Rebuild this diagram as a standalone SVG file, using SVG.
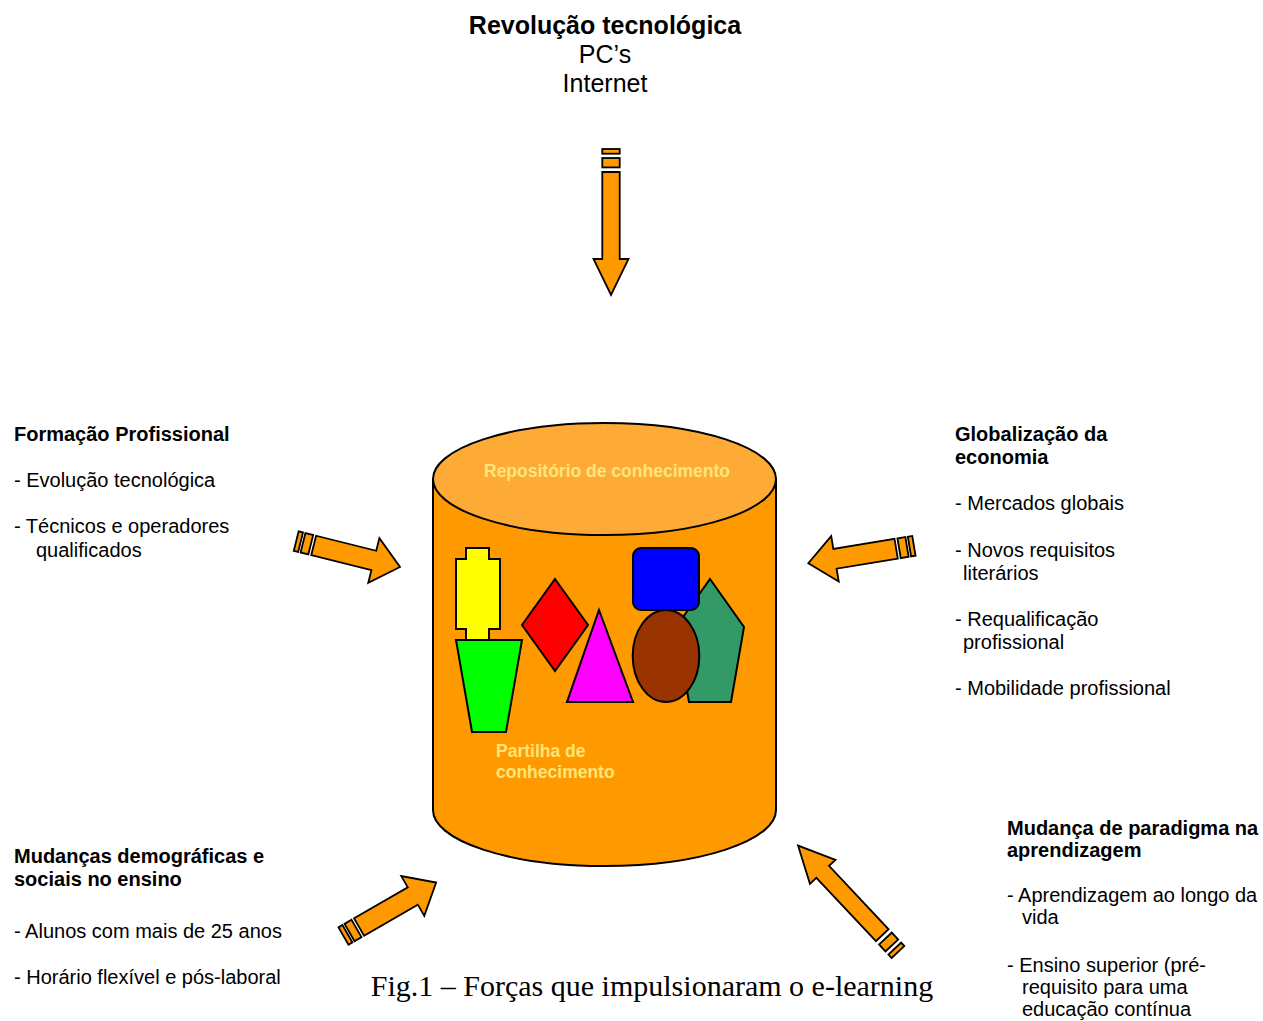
<svg xmlns="http://www.w3.org/2000/svg" width="1263" height="1021" viewBox="0 0 1263 1021">
<defs>
<style>
.t{font-family:"Liberation Sans",Arial,sans-serif;font-size:20px;fill:#000}
.b{font-weight:bold}
.h{font-size:25px}
.cyl{fill:#FF9900;stroke:#000;stroke-width:2}
.arr{fill:#FF9900;stroke:#000;stroke-width:1.8;stroke-linejoin:miter}
.sh{stroke:#000;stroke-width:2;stroke-linejoin:miter}
.in{font-family:"Liberation Sans",Arial,sans-serif;font-size:17.5px;font-weight:bold;fill:#FFE57A}
</style>
<g id="arrowA">
<rect class="arr" x="0" y="-8.7" width="4.7" height="17.4"/>
<rect class="arr" x="9" y="-8.7" width="9.4" height="17.4"/>
<polygon class="arr" points="23,-8.7 110,-8.7 110,-17.5 146,0 110,17.5 110,8.7 23,8.7"/>
</g>
<g id="arrowB">
<rect class="arr" x="0" y="-10" width="4.5" height="20"/>
<rect class="arr" x="7" y="-10" width="8" height="20"/>
<polygon class="arr" points="18,-10 80,-10 80,-23 107,0 80,23 80,10 18,10"/>
</g>
</defs>
<rect width="1263" height="1021" fill="#fff"/>

<g id="node-revolucao">
<text class="t b h" x="605" y="34" text-anchor="middle">Revolução tecnológica</text>
<text class="t h" x="605" y="63" text-anchor="middle">PC’s</text>
<text class="t h" x="605" y="92" text-anchor="middle">Internet</text>
</g>

<g id="node-formacao">
<text class="t b" x="14" y="441">Formação Profissional</text>
<text class="t" x="14" y="487">- Evolução tecnológica</text>
<text class="t" x="14" y="533">- Técnicos e operadores</text>
<text class="t" x="36" y="557">qualificados</text>
</g>

<g id="node-globalizacao">
<text class="t b" x="955" y="441">Globalização da</text>
<text class="t b" x="955" y="464">economia</text>
<text class="t" x="955" y="510">- Mercados globais</text>
<text class="t" x="955" y="557">- Novos requisitos</text>
<text class="t" x="963" y="580">literários</text>
<text class="t" x="955" y="626">- Requalificação</text>
<text class="t" x="963" y="649">profissional</text>
<text class="t" x="955" y="695">- Mobilidade profissional</text>
</g>

<g id="node-mudancas">
<text class="t b" x="14" y="863">Mudanças demográficas e</text>
<text class="t b" x="14" y="886">sociais no ensino</text>
<text class="t" x="14" y="938">- Alunos com mais de 25 anos</text>
<text class="t" x="14" y="984">- Horário flexível e pós-laboral</text>
</g>

<g id="node-paradigma">
<text class="t b" x="1007" y="835">Mudança de paradigma na</text>
<text class="t b" x="1007" y="857">aprendizagem</text>
<text class="t" x="1007" y="902">- Aprendizagem ao longo da</text>
<text class="t" x="1022" y="924">vida</text>
<text class="t" x="1007" y="972">- Ensino superior (pré-</text>
<text class="t" x="1022" y="994">requisito para uma</text>
<text class="t" x="1022" y="1016">educação contínua</text>
</g>

<g id="node-repositorio">
<path class="cyl" d="M433,479 L433,810 A171.5,56 0 0 0 776,810 L776,479 Z"/>
<ellipse cx="604.5" cy="479" rx="171.5" ry="56" fill="#FDAB36" stroke="#000" stroke-width="2"/>
<text class="in" x="607" y="477" text-anchor="middle">Repositório de conhecimento</text>
<polygon class="sh" fill="#FFFF00" points="466,548 489,548 489,559 500,559 500,629 489,629 489,640 466,640 466,629 456,629 456,559 466,559"/>
<polygon class="sh" fill="#00FF00" points="456,640 522,640 506,732 472,732"/>
<polygon class="sh" fill="#FF0000" points="555,579 588,625 555,671 522,625"/>
<polygon class="sh" fill="#FF00FF" points="599,610 633,702 567,702"/>
<polygon class="sh" fill="#339966" points="710,579 744,627 731,702 689,702 676,627"/>
<rect class="sh" fill="#0000FF" x="633" y="548" width="66" height="62" rx="8"/>
<ellipse class="sh" fill="#993300" cx="666" cy="656" rx="33.3" ry="46"/>
<text class="in" x="496" y="757">Partilha de</text>
<text class="in" x="496" y="778">conhecimento</text>
</g>

<g id="connectors">
<use href="#arrowA" transform="translate(611,149) rotate(90)"/>
<use href="#arrowA" transform="translate(898,952) rotate(-133.2)"/>
<use href="#arrowB" transform="translate(296.2,541.1) rotate(14)"/>
<use href="#arrowB" transform="translate(913.9,545.8) rotate(170.6)"/>
<use href="#arrowB" transform="translate(343.5,936) rotate(-30)"/>
</g>

<g id="caption">
<text x="652" y="996" text-anchor="middle" font-family="'Liberation Serif','Times New Roman',serif" font-size="30">Fig.1 – Forças que impulsionaram o e-learning</text>
</g>
</svg>
